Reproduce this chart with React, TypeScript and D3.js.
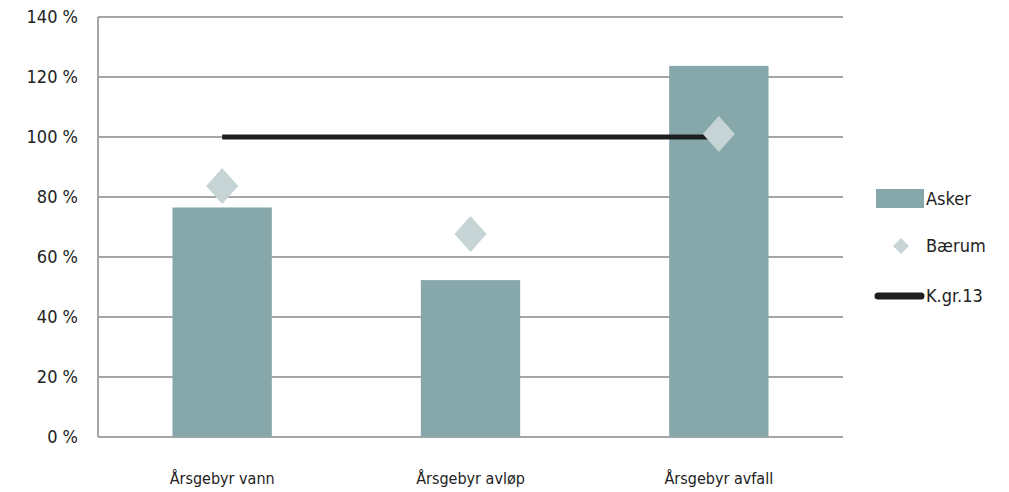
import React from "react";
import * as d3 from "d3";

const categories = ["Årsgebyr vann", "Årsgebyr avløp", "Årsgebyr avfall"];
const askerValues = [76.5, 52.3, 123.7];
const baerumValues = [83.7, 67.7, 101];
const kgr13Values = [100, 100, 100];
const yTicks = [0, 20, 40, 60, 80, 100, 120, 140];
const legendLabels = ["Asker", "Bærum", "K.gr.13"];

const W = 1009;
const H = 492;
const left = 98;
const right = 843;
const top = 17;
const bottom = 437;
const font = "'Liberation Sans Narrow', 'DejaVu Sans Condensed', 'Roboto Condensed', sans-serif";
const barColor = "#86a8ab";
const diamondColor = "#c6d4d5";
const gridColor = "#a6a6a6";

export default function App() {
  const x = d3.scaleBand<string>().domain(categories).range([left, right]).paddingInner(0).paddingOuter(0);
  const y = d3.scaleLinear().domain([0, 140]).range([bottom, top]);
  const bw = x.bandwidth() * 0.4;
  const cx = (c: string) => (x(c) as number) + x.bandwidth() / 2;
  const line = d3
    .line<number>()
    .x((_, i) => cx(categories[i]))
    .y((d) => y(d));
  const diamond = (s: number, t: number) => `M0,${-t} L${s},0 L0,${t} L${-s},0 Z`;

  return (
    <svg width={W} height={H} style={{ position: "absolute", left: 0, top: 0, background: "#fff" }}>
      {yTicks.map((t) => (
        <g key={t}>
          <line x1={left} x2={right} y1={y(t)} y2={y(t)} stroke={gridColor} strokeWidth={2} />
          <text x={78} y={y(t)} dy="0.35em" textAnchor="end" fontFamily={font} fontSize={18} fill="#222">
            {`${t} %`}
          </text>
        </g>
      ))}
      <line x1={left} x2={left} y1={top} y2={bottom} stroke={gridColor} strokeWidth={2} />
      {categories.map((c, i) => (
        <rect key={c} x={cx(c) - bw / 2} y={y(askerValues[i])} width={bw} height={bottom - y(askerValues[i])} fill={barColor} />
      ))}
      <path d={line(kgr13Values) as string} stroke="#1e1e1e" strokeWidth={5} fill="none" />
      {categories.map((c, i) => (
        <path key={c} d={diamond(16, 18)} transform={`translate(${cx(c)},${y(baerumValues[i])})`} fill={diamondColor} />
      ))}
      {categories.map((c) => (
        <text key={c} x={cx(c)} y={478} dy="0.35em" textAnchor="middle" fontFamily={font} fontSize={16} fill="#222">
          {c}
        </text>
      ))}
      {/* legend */}
      <rect x={876} y={189} width={48} height={19} fill={barColor} />
      <text x={926} y={198.5} dy="0.35em" fontFamily={font} fontSize={18} fill="#222">{legendLabels[0]}</text>
      <path d={diamond(8, 8)} transform="translate(901,246)" fill={diamondColor} />
      <text x={926} y={246} dy="0.35em" fontFamily={font} fontSize={18} fill="#222">{legendLabels[1]}</text>
      <line x1={878} x2={921} y1={296} y2={296} stroke="#1e1e1e" strokeWidth={7} strokeLinecap="round" />
      <text x={926} y={296} dy="0.35em" fontFamily={font} fontSize={18} fill="#222">{legendLabels[2]}</text>
    </svg>
  );
}
